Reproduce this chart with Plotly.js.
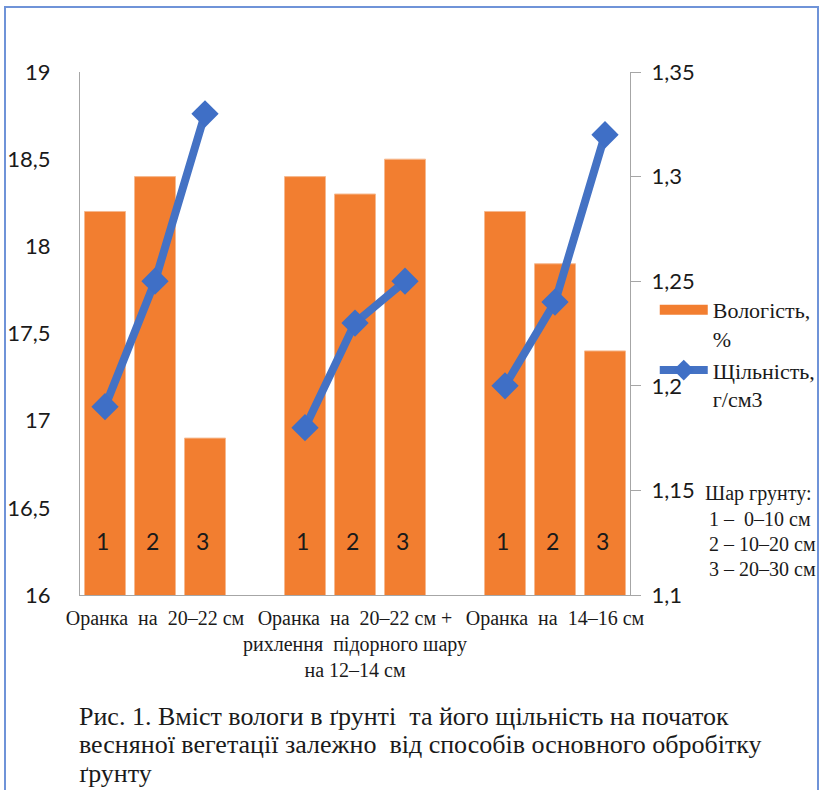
<!DOCTYPE html>
<html>
<head>
<meta charset="utf-8">
<script src="https://cdn.plot.ly/plotly-3.0.1.min.js"></script>
<style>
  html, body { margin: 0; padding: 0; background: #fff; }
  #wrap { position: relative; width: 823px; height: 790px; overflow: hidden; }
  #frame { position: absolute; left: 4px; top: 6px; width: 815px; height: 800px;
           border: 2px solid #6F93D8; border-bottom: none; box-sizing: border-box; pointer-events: none; }
  #chart { position: absolute; left: 0; top: 0; width: 823px; height: 790px; }
</style>
</head>
<body>
<div id="wrap">
  <div id="chart"></div>
  <div id="frame"></div>
</div>
<script>
// ---- data ----
const groups = ['Оранка  на  20–22 см',
                'Оранка  на  20–22 см +<br>рихлення  підорного шару<br>на 12–14 см',
                'Оранка  на  14–16 см'];
const layerLabels = ['1', '2', '3'];
const moisture = [18.2, 18.4, 16.9,  18.4, 18.3, 18.5,  18.2, 17.9, 17.4];   // Вологість, %
const density  = [1.19, 1.25, 1.33,  1.18, 1.23, 1.25,  1.20, 1.24, 1.32];  // Щільність, г/см3
const moistureName = 'Вологість,<br>%';
const densityName = 'Щільність,<br>г/см3';
const noteLines = ['Шар грунту:', ' 1 –  0–10 см', ' 2 – 10–20 см', ' 3 – 20–30 см'];
const captionLines = ['Рис. 1. Вміст вологи в ґрунті  та його щільність на початок',
                      'весняної вегетації залежно  від способів основного обробітку',
                      'ґрунту'];

// ---- build positions (3 bars per group, one empty slot between groups) ----
const nLayers = layerLabels.length;
const barX = [], lineX = [], lineY = [], barLbl = [];
groups.forEach((g, gi) => {
  for (let i = 0; i < nLayers; i++) {
    const k = gi * nLayers + i;
    const x = gi * (nLayers + 1) + i;
    barX.push(x);
    barLbl.push(layerLabels[i]);
    lineX.push(x); lineY.push(density[k]);
  }
  if (gi < groups.length - 1) { lineX.push(null); lineY.push(null); }
});
const groupTickVals = groups.map((g, gi) => gi * (nLayers + 1) + (nLayers - 1) / 2);

const orange = '#F27E30';
const blue = '#4472C4';
const SERIF = 'Liberation Serif';
const SANS = 'Lato';

const traces = [
  { // legend proxy for bars
    type: 'scatter', mode: 'lines', x: [null], y: [null],
    name: moistureName, line: { color: orange, width: 11 }, hoverinfo: 'skip'
  },
  {
    type: 'bar', x: barX, y: moisture, width: 0.82, showlegend: false,
    marker: { color: orange, line: { color: '#F6B98F', width: 1 } },
    name: 'Вологість, %'
  },
  {
    type: 'scatter', mode: 'lines+markers', x: lineX, y: lineY, yaxis: 'y2',
    connectgaps: false, name: densityName,
    line: { color: blue, width: 8 },
    marker: { symbol: 'diamond', size: 21, color: '#3F6FC6' }
  }
];

// plot area: x 80..630, y 72..595 (px)
const pyToPaper = py => (595 - py) / 523;
const pxToPaper = px => (px - 80) / 550;

const annotations = barX.map((x, i) => ({
  x: x, y: 16.31, xref: 'x', yref: 'y', text: barLbl[i], showarrow: false,
  xshift: -3, font: { family: SANS, size: 23, color: '#1a1a1a' }
}));
noteLines.forEach((t, i) => annotations.push({
  x: pxToPaper(i === 0 ? 703 : 702), y: pyToPaper(494 + i * 25), xref: 'paper', yref: 'paper',
  xanchor: 'left', yanchor: 'middle', align: 'left', showarrow: false, text: t,
  font: { family: SERIF, size: 20, color: '#1a1a1a' }
}));
captionLines.forEach((t, i) => annotations.push({
  x: pxToPaper(77), y: pyToPaper(716 + i * 28.5), xref: 'paper', yref: 'paper',
  xanchor: 'left', yanchor: 'middle', align: 'left', showarrow: false, text: t,
  font: { family: SERIF, size: 26, color: '#1a1a1a' }
}));

const layout = {
  width: 823, height: 790,
  margin: { l: 80, r: 193, t: 72, b: 195, autoexpand: false },
  paper_bgcolor: '#fff', plot_bgcolor: '#fff',
  separators: ', ',
  showlegend: true,
  font: { family: SERIF },
  legend: {
    x: 1.045, y: 0.585, xanchor: 'left', yanchor: 'top', valign: 'top',
    font: { family: SERIF, size: 22, color: '#1a1a1a' },
    bgcolor: 'rgba(0,0,0,0)', tracegroupgap: 0, itemwidth: 48
  },
  xaxis: {
    range: [-0.5, (nLayers + 1) * groups.length - 1.5],
    tickmode: 'array', tickvals: groupTickVals, ticktext: groups, tickangle: 0,
    showline: true, linecolor: '#A6A6A6', linewidth: 1, ticks: '',
    showgrid: false, zeroline: false, ticklabelstandoff: 5,
    tickfont: { family: SERIF, size: 20, color: '#1a1a1a' }
  },
  yaxis: {
    range: [16, 19], dtick: 0.5, showline: true, linecolor: '#A6A6A6', linewidth: 1,
    ticks: '', showgrid: false, zeroline: false, ticklabelstandoff: 24,
    tickfont: { family: SANS, size: 22, color: '#1a1a1a' }
  },
  yaxis2: {
    range: [1.1, 1.35], dtick: 0.05, overlaying: 'y', side: 'right',
    showline: true, linecolor: '#A6A6A6', linewidth: 1,
    ticks: 'outside', ticklen: 10, tickcolor: '#A6A6A6', showgrid: false, zeroline: false,
    ticklabelstandoff: 6,
    tickfont: { family: SANS, size: 22, color: '#1a1a1a' }
  },
  annotations: annotations
};

Plotly.newPlot('chart', traces, layout, { displayModeBar: false, staticPlot: true });
</script>
</body>
</html>
